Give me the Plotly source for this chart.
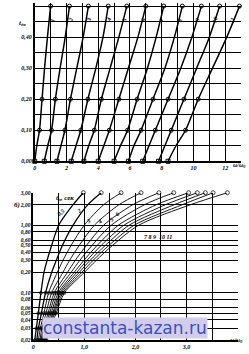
import math
import plotly.graph_objects as go

# ---------- top panel data: x (omega ratio) at given t levels ----------
top_levels = [0.0, 0.05, 0.1, 0.2, 0.3, 0.4, 0.5]
top_curves = {
    "1":  [0.00, 0.13, 0.30, 0.46, 0.62, 0.80, 1.00],
    "2":  [0.60, 0.82, 1.06, 1.30, 1.60, 1.92, 2.19],
    "3":  [1.40, 1.65, 1.90, 2.25, 2.65, 3.05, 3.38],
    "4":  [2.30, 2.60, 2.90, 3.35, 3.85, 4.30, 4.63],
    "5":  [3.10, 3.40, 3.75, 4.20, 4.75, 5.30, 5.80],
    "6":  [4.00, 4.35, 4.70, 5.30, 5.90, 6.50, 7.00],
    "7":  [5.00, 5.40, 5.85, 6.45, 7.10, 7.65, 8.13],
    "8":  [5.90, 6.25, 6.70, 7.45, 8.20, 8.80, 9.30],
    "9":  [6.80, 7.20, 7.60, 8.40, 9.20, 9.90, 10.50],
    "10": [7.80, 8.20, 8.60, 9.40, 10.20, 11.00, 11.65],
    "11": [8.40, 8.90, 9.50, 10.30, 11.20, 12.10, 12.90],
}
top_xticks = [0, 2, 4, 6, 8, 10, 12]
top_yticks = [0.0, 0.1, 0.2, 0.3, 0.4]
top_ytext = ["0,00", "0,10", "0,20", "0,30", "0,40"]

# ---------- bottom panel data ----------
bot_levels = [0.02, 0.03, 0.05, 0.1, 0.2, 0.3, 0.5, 1.0, 2.0, 3.0]
bot_curves = {
    "1":  [0.03, 0.06, 0.10, 0.15, 0.21, 0.27, 0.36, 0.50, 0.78, 0.98],
    "2":  [0.07, 0.10, 0.16, 0.24, 0.36, 0.45, 0.57, 0.78, 1.07, 1.33],
    "3":  [0.10, 0.14, 0.21, 0.30, 0.47, 0.58, 0.74, 1.00, 1.38, 1.72],
    "4":  [0.13, 0.17, 0.25, 0.36, 0.58, 0.71, 0.90, 1.20, 1.68, 2.11],
    "5":  [0.15, 0.20, 0.29, 0.41, 0.67, 0.82, 1.04, 1.38, 1.95, 2.46],
    "6":  [0.17, 0.22, 0.32, 0.45, 0.74, 0.91, 1.15, 1.53, 2.18, 2.75],
    "7":  [0.19, 0.25, 0.35, 0.49, 0.80, 0.99, 1.25, 1.67, 2.41, 3.04],
    "8":  [0.21, 0.27, 0.38, 0.52, 0.85, 1.05, 1.33, 1.78, 2.59, 3.21],
    "9":  [0.22, 0.29, 0.40, 0.55, 0.90, 1.11, 1.41, 1.88, 2.76, 3.37],
    "10": [0.24, 0.31, 0.42, 0.58, 0.95, 1.17, 1.48, 1.98, 2.92, 3.52],
    "11": [0.26, 0.33, 0.45, 0.61, 1.00, 1.23, 1.55, 2.07, 3.08, 3.80],
}
bot_xticks = [0, 1, 2, 3]
bot_xtext = ["0", "1,0", "2,0", "3,0"]
bot_yticks = [3.0, 2.0, 1.0, 0.8, 0.6, 0.5, 0.4, 0.3, 0.2, 0.1, 0.08, 0.06, 0.05, 0.04, 0.03, 0.02]
bot_ytext = ["3,00", "2,00", "1,00", "0,80", "0,60", "0,50", "0,40", "0,30", "0,20",
             "0,10", "0,08", "0,06", "0,05", "0,04", "0,03", "0,02"]

W, H = 249, 354
tickfont = dict(family="Liberation Serif", size=6, color="black", style="italic", weight="bold")

fig = go.Figure()

for name, xs in top_curves.items():
    fig.add_trace(go.Scatter(
        x=xs, y=top_levels, xaxis="x", yaxis="y", mode="lines",
        line=dict(color="black", width=1.5, shape="spline", smoothing=0.8),
        showlegend=False, cliponaxis=False))
    mx = [xs[0], xs[2], xs[3], xs[6]]
    my = [top_levels[0], top_levels[2], top_levels[3], top_levels[6]]
    fig.add_trace(go.Scatter(
        x=mx, y=my, xaxis="x", yaxis="y", mode="markers",
        marker=dict(symbol=["square-open", "circle-open", "circle-open", "circle-open"],
                    size=4, color="black", line=dict(width=1)),
        showlegend=False, cliponaxis=False))

for i, (name, xs) in enumerate(bot_curves.items()):
    fig.add_trace(go.Scatter(
        x=xs, y=bot_levels, xaxis="x2", yaxis="y2", mode="lines",
        line=dict(color="black", width=1.3 if i < 2 else 0.9, shape="spline", smoothing=0.8),
        showlegend=False, cliponaxis=False))
    fig.add_trace(go.Scatter(
        x=xs[:4] + [xs[-1]], y=bot_levels[:4] + [bot_levels[-1]], xaxis="x2", yaxis="y2",
        mode="markers",
        marker=dict(symbol="circle-open", size=[3, 3, 3, 3, 4], color="black", line=dict(width=1)),
        showlegend=False, cliponaxis=False))

# curve labels top panel
for name, xs in top_curves.items():
    fig.add_annotation(x=xs[5] + 0.35, y=0.455, xref="x", yref="y", text=name,
                       showarrow=False, textangle=-70, font=tickfont)

# curve labels bottom panel
bot_lab = [("0,5", 0.55, 1.55), ("2", 0.9, 1.6), ("3", 1.08, 1.15), ("4", 1.3, 1.1),
           ("5", 1.53, 1.2), ("6", 1.65, 1.45)]
for t, x, y in bot_lab:
    fig.add_annotation(x=x, y=math.log10(y), xref="x2", yref="y2", text=t,
                       showarrow=False, textangle=-40, font=tickfont)
fig.add_annotation(x=2.45, y=math.log10(0.66), xref="x2", yref="y2",
                   text="7 8 9  10 11", showarrow=False, font=tickfont)

axis_common = dict(showline=True, linecolor="black", linewidth=1.5, ticks="",
                   showgrid=True, gridcolor="black", gridwidth=1, zeroline=False, tickfont=tickfont)

fig.update_layout(
    width=W, height=H, margin=dict(l=0, r=0, t=0, b=0),
    paper_bgcolor="white", plot_bgcolor="white",
    xaxis=dict(axis_common, domain=[33 / W, 241 / W], range=[0, 13], anchor="y",
               tickvals=top_xticks, ticktext=[str(v) for v in top_xticks],
               minor=dict(dtick=1, tick0=0, showgrid=True, gridcolor="black", gridwidth=1)),
    yaxis=dict(axis_common, domain=[1 - 161 / H, 1.0], range=[0, 0.51], anchor="x",
               tickvals=top_yticks, ticktext=top_ytext,
               minor=dict(dtick=0.05, tick0=0, showgrid=True, gridcolor="black", gridwidth=1)),
    xaxis2=dict(axis_common, domain=[31.5 / W, 237.5 / W], range=[0, 4], anchor="y2",
                tickvals=bot_xticks, ticktext=bot_xtext,
                minor=dict(dtick=0.5, tick0=0, showgrid=True, gridcolor="black", gridwidth=1)),
    yaxis2=dict(axis_common, type="log", domain=[1 - 343 / H, 1 - 193 / H],
                range=[math.log10(0.02), math.log10(3.0)], anchor="x2",
                tickvals=bot_yticks, ticktext=bot_ytext, tickfont=dict(tickfont, size=5.5)),
)

ann_font = dict(tickfont, size=7)
fig.add_annotation(x=15 / W, y=1 - 14 / H, xref="paper", yref="paper", text="t<sub>дв</sub>",
                   showarrow=False, font=ann_font)
fig.add_annotation(x=231 / W, y=1 - 165 / H, xref="paper", yref="paper", text="ω/ω<sub>0</sub>",
                   showarrow=False, xanchor="left", font=tickfont)
fig.add_annotation(x=52 / W, y=1 - 198 / H, xref="paper", yref="paper", text="t<sub>п</sub>, сек",
                   showarrow=False, font=ann_font)
fig.add_annotation(x=10 / W, y=1 - 205 / H, xref="paper", yref="paper", text="б)",
                   showarrow=False, font=ann_font)
fig.add_annotation(x=228 / W, y=1 - 349 / H, xref="paper", yref="paper", text="ω/ω<sub>0</sub>",
                   showarrow=False, xanchor="left", font=tickfont)
fig.add_annotation(x=124 / W, y=1 - 342 / H, xref="paper", yref="paper", text="constanta-kazan.ru",
                   showarrow=False, bgcolor="#d2cdea", borderpad=0,
                   font=dict(family="DejaVu Sans", size=17, color="#3d4fc4"))

fig.write_html("out.html")
